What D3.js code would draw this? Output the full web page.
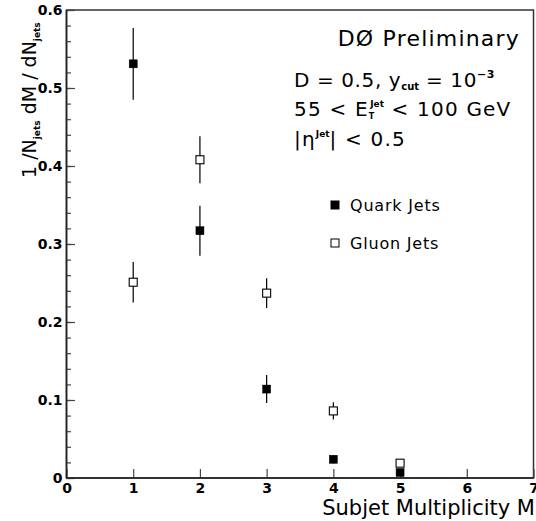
<!DOCTYPE html>
<html>
<head>
<meta charset="utf-8">
<script src="https://cdn.jsdelivr.net/npm/d3@7"></script>
<style>
html,body{margin:0;padding:0;background:#fff;}
svg{display:block;font-family:"DejaVu Sans",sans-serif;}
</style>
</head>
<body>
<svg id="c" width="536" height="521"></svg>
<script>
const multiplicity = [1, 2, 3, 4, 5];
const quarkValues = [0.531, 0.317, 0.114, 0.024, 0.007];
const quarkErrors = [0.046, 0.032, 0.018, 0.005, 0.003];
const gluonValues = [0.251, 0.408, 0.237, 0.086, 0.019];
const gluonErrors = [0.026, 0.030, 0.019, 0.011, 0.004];
const xTicks = [0, 1, 2, 3, 4, 5, 6, 7];
const yTicks = [0, 0.1, 0.2, 0.3, 0.4, 0.5, 0.6];
const yMinorTicks = d3.range(0, 0.6001, 0.02);

const svg = d3.select("#c");
const x = d3.scaleLinear().domain([0, 7]).range([66.5, 533.5]);
const y = d3.scaleLinear().domain([0, 0.6]).range([478, 10]);

// frame
svg.append("rect").attr("x", x(0)).attr("y", y(0.6))
  .attr("width", x(7) - x(0)).attr("height", y(0) - y(0.6))
  .attr("fill", "none").attr("stroke", "#333").attr("stroke-width", 1.5);

// y minor ticks
svg.append("g").attr("transform", `translate(${x(0)},0)`)
  .call(d3.axisLeft(y).tickValues(yMinorTicks).tickSize(-4.5).tickFormat(""))
  .call(g => g.select(".domain").remove())
  .call(g => g.selectAll("line").attr("stroke", "#444").attr("stroke-width", 1.2));

// y major
svg.append("g").attr("transform", `translate(${x(0)},0)`)
  .call(d3.axisLeft(y).tickValues(yTicks).tickSize(-8.5).tickPadding(4)
    .tickFormat(d => d === 0 ? "0" : d3.format(".1f")(d)))
  .call(g => g.select(".domain").remove())
  .call(g => g.selectAll("line").attr("stroke", "#444").attr("stroke-width", 1.2))
  .call(g => g.selectAll("text").attr("font-size", 14).attr("font-weight", "bold")
    .attr("font-family", "DejaVu Sans, sans-serif").attr("fill", "#000"));

// x major
svg.append("g").attr("transform", `translate(0,${y(0)})`)
  .call(d3.axisBottom(x).tickValues(xTicks).tickSize(-9).tickPadding(5).tickFormat(d3.format("d")))
  .call(g => g.select(".domain").remove())
  .call(g => g.selectAll("line").attr("stroke", "#444").attr("stroke-width", 1.2))
  .call(g => g.selectAll("text").attr("font-size", 14).attr("font-weight", "bold")
    .attr("font-family", "DejaVu Sans, sans-serif").attr("fill", "#000"));

// redraw axis lines
svg.append("line").attr("x1", x(0)).attr("x2", x(7)).attr("y1", y(0)).attr("y2", y(0))
  .attr("stroke", "#222").attr("stroke-width", 1.6);
svg.append("line").attr("x1", x(0)).attr("x2", x(0)).attr("y1", y(0)).attr("y2", y(0.6))
  .attr("stroke", "#222").attr("stroke-width", 1.6);

function series(vals, errs, fill) {
  const g = svg.append("g");
  const data = multiplicity.map((m, i) => ({m, v: vals[i], e: errs[i]}));
  g.selectAll("line.err").data(data).enter().append("line")
    .attr("x1", d => x(d.m)).attr("x2", d => x(d.m))
    .attr("y1", d => y(d.v + d.e)).attr("y2", d => y(d.v - d.e))
    .attr("stroke", "#000").attr("stroke-width", 1.2);
  g.selectAll("rect").data(data).enter().append("rect")
    .attr("x", d => x(d.m) - 4).attr("y", d => y(d.v) - 4)
    .attr("width", 8).attr("height", 8)
    .attr("fill", fill).attr("stroke", "#000").attr("stroke-width", fill === "#fff" ? 1.1 : 0.5);
}
series(quarkValues, quarkErrors, "#000");
series(gluonValues, gluonErrors, "#fff");

// annotations
const ann = svg.append("g").attr("fill", "#000");
ann.append("text").attr("x", 520).attr("y", 46).attr("text-anchor", "end")
  .attr("font-size", 22).attr("letter-spacing", 1.2).text("DØ Preliminary");

const t1 = ann.append("text").attr("x", 294).attr("y", 87).attr("font-size", 20).attr("letter-spacing", 0.6);
t1.append("tspan").text("D = 0.5, y");
t1.append("tspan").attr("font-size", 10).attr("dy", 3).attr("font-weight", "bold").attr("letter-spacing", 0).text("cut");
t1.append("tspan").attr("dy", -3).text(" = 10");
t1.append("tspan").attr("font-size", 11).attr("dy", -9).attr("font-weight", "bold").text("−3");

const t2 = ann.append("text").attr("x", 294).attr("y", 116).attr("font-size", 20).attr("letter-spacing", 1.2);
t2.append("tspan").text("55 < E");
t2.append("tspan").attr("font-size", 8).attr("dy", 3).attr("font-weight", "bold").attr("letter-spacing", 0).text("T");
t2.append("tspan").attr("font-size", 9).attr("dy", -12).attr("dx", -4).attr("font-weight", "bold").attr("letter-spacing", 0).text("Jet");
t2.append("tspan").attr("dy", 9).text(" < 100 GeV");

const t3 = ann.append("text").attr("x", 294).attr("y", 146).attr("font-size", 20).attr("letter-spacing", 1.2);
t3.append("tspan").text("|η");
t3.append("tspan").attr("font-size", 9).attr("dy", -9).attr("font-weight", "bold").attr("letter-spacing", 0).text("Jet");
t3.append("tspan").attr("dy", 9).text("| < 0.5");

// legend
const legend = [{label: "Quark Jets", fill: "#000", yy: 205}, {label: "Gluon Jets", fill: "#fff", yy: 243}];
legend.forEach(l => {
  svg.append("rect").attr("x", 331).attr("y", l.yy - 4).attr("width", 8).attr("height", 8)
    .attr("fill", l.fill).attr("stroke", "#000").attr("stroke-width", 1);
  svg.append("text").attr("x", 350).attr("y", l.yy + 6).attr("font-size", 16)
    .attr("letter-spacing", 0.8).text(l.label);
});

// x label
svg.append("text").attr("x", 535).attr("y", 515).attr("text-anchor", "end")
  .attr("font-size", 21).text("Subjet Multiplicity M");

// y label
const yl = svg.append("text").attr("transform", "translate(36,178) rotate(-90)")
  .attr("font-size", 19);
yl.append("tspan").text("1 /N");
yl.append("tspan").attr("font-size", 9).attr("dy", 4).attr("font-weight", "bold").text("jets");
yl.append("tspan").attr("dy", -4).text(" dM / dN");
yl.append("tspan").attr("font-size", 9).attr("dy", 4).attr("font-weight", "bold").text("jets");
</script>
</body>
</html>
